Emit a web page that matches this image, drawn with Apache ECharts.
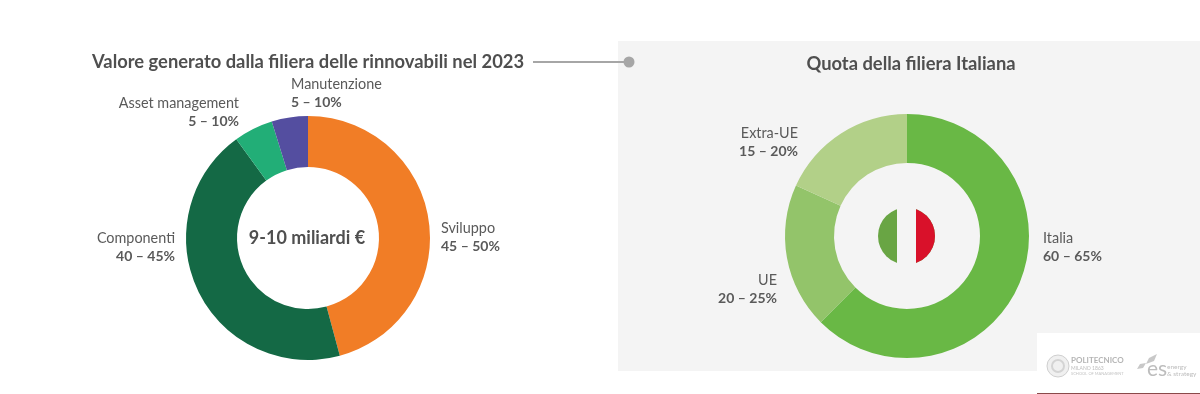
<!DOCTYPE html>
<html>
<head>
<meta charset="utf-8">
<style>
  html, body { margin: 0; padding: 0; background: #fff; }
  #chart { width: 1200px; height: 394px; }
</style>
<script src="https://cdn.jsdelivr.net/npm/echarts@6/dist/echarts.min.js"></script>
</head>
<body>
<div id="chart"></div>
<script>
const valueNames = ['Sviluppo', 'Componenti', 'Asset management', 'Manutenzione'];
const valueShares = [45.8, 44.2, 5.2, 4.8];
const valueRanges = ['45 – 50%', '40 – 45%', '5 – 10%', '5 – 10%'];
const valueColors = ['#f17d26', '#146945', '#22ae77', '#544ea0'];

const shareNames = ['Italia', 'UE', 'Extra-UE'];
const shareShares = [62.5, 19.3, 18.2];
const shareRanges = ['60 – 65%', '20 – 25%', '15 – 20%'];
const shareColors = ['#69b845', '#93c46a', '#b2d088'];

const leftTitle = 'Valore generato dalla filiera delle rinnovabili nel 2023';
const rightTitle = 'Quota della filiera Italiana';
const centerText = '9-10 miliardi €';

const FONT = 'Lato, sans-serif';
const PANEL = '#f4f4f4';

// where each pie label sits: [x, y, align]
const valueLabelPos = [[441, 237, 'left'], [175, 247, 'right'], [239, 112, 'right'], [291, 93, 'left']];
const shareLabelPos = [[1043, 247, 'left'], [777, 289, 'right'], [798, 142, 'right']];

const toData = (names, values, ranges, colors) => names.map((name, i) => ({
  name,
  value: values[i],
  range: ranges[i],
  itemStyle: { color: colors[i] }
}));

const createPie = (center, radius, data, positions) => ({
  type: 'pie',
  center,
  radius,
  startAngle: 90,
  clockwise: true,
  animation: false,
  silent: true,
  data,
  labelLine: { show: false },
  label: {
    show: true,
    position: 'outside',
    formatter: p => `{n|${p.name}}\n{r|${p.data.range}}`,
    rich: {
      n: { fontFamily: FONT, fontSize: 14.4, color: '#5a5a5a', lineHeight: 18 },
      r: { fontFamily: FONT, fontSize: 14, fontWeight: 'bold', color: '#5a5a5a', lineHeight: 18 }
    }
  },
  labelLayout: p => {
    const pos = positions[p.dataIndex];
    return { x: pos[0], y: pos[1], align: pos[2], verticalAlign: 'middle', hideOverlap: false };
  }
});

const chart = echarts.init(document.getElementById('chart'), null, { renderer: 'canvas' });

chart.setOption({
  backgroundColor: '#fff',
  graphic: [
    { type: 'rect', z: -1, shape: { x: 618, y: 41, width: 582, height: 330 }, style: { fill: PANEL } },
    { type: 'text', x: 92, y: 62, style: { text: leftTitle, fontFamily: FONT, fontSize: 18.35, fontWeight: 'bold', fill: '#4f4f4f', verticalAlign: 'middle' } },
    { type: 'text', x: 911, y: 64, style: { text: rightTitle, fontFamily: FONT, fontSize: 18.35, fontWeight: 'bold', fill: '#4f4f4f', align: 'center', verticalAlign: 'middle' } },
    { type: 'line', shape: { x1: 533, y1: 62, x2: 629, y2: 62 }, style: { stroke: '#a6a6a6', lineWidth: 2 } },
    { type: 'circle', shape: { cx: 629, cy: 62, r: 5.5 }, style: { fill: '#a6a6a6' } },
    { type: 'text', x: 307, y: 238, style: { text: centerText, fontFamily: FONT, fontSize: 18, fontWeight: 'bold', fill: '#4f4f4f', align: 'center', verticalAlign: 'middle' } },

    // flag: green disc, red right half, then a panel coloured band over the middle
    { type: 'circle', z: 5, shape: { cx: 906.5, cy: 236, r: 28.5 }, style: { fill: '#69a544' } },
    { type: 'sector', z: 6, shape: { cx: 906.5, cy: 236, r: 28.5, r0: 0, startAngle: -Math.PI / 2, endAngle: Math.PI / 2 }, style: { fill: '#d9112a' } },
    { type: 'rect', z: 7, shape: { x: 897, y: 206, width: 19, height: 60 }, style: { fill: PANEL } },

    // logo box, bottom right
    { type: 'rect', z: 8, shape: { x: 1037, y: 333, width: 163, height: 61 }, style: { fill: '#fff' } },
    { type: 'line', z: 9, shape: { x1: 1037, y1: 393.5, x2: 1200, y2: 393.5 }, style: { stroke: '#8a4a4a', lineWidth: 1 } },
    { type: 'circle', z: 9, shape: { cx: 1058, cy: 366, r: 11 }, style: { fill: '#f0f0f0', stroke: '#cfcfcf', lineWidth: 1 } },
    { type: 'circle', z: 9, shape: { cx: 1058, cy: 366, r: 6 }, style: { fill: 'none', stroke: '#d4d4d4', lineWidth: 2 } },
    { type: 'text', z: 9, x: 1071, y: 360, style: { text: 'POLITECNICO', fontFamily: FONT, fontSize: 8, fontWeight: 'bold', fill: '#b5b5b5', verticalAlign: 'middle' } },
    { type: 'text', z: 9, x: 1071, y: 368, style: { text: 'MILANO 1863', fontFamily: FONT, fontSize: 5, fill: '#bdbdbd', verticalAlign: 'middle' } },
    { type: 'text', z: 9, x: 1071, y: 374, style: { text: 'SCHOOL OF MANAGEMENT', fontFamily: FONT, fontSize: 4, fill: '#c4c4c4', verticalAlign: 'middle' } },
    { type: 'text', z: 9, x: 1147, y: 369, style: { text: 'es', fontFamily: FONT, fontSize: 21, fill: '#bdbdbd', verticalAlign: 'middle' } },
    { type: 'text', z: 9, x: 1167, y: 367, style: { text: 'energy', fontFamily: FONT, fontSize: 6.5, fill: '#bdbdbd', verticalAlign: 'middle' } },
    { type: 'text', z: 9, x: 1167, y: 374, style: { text: '& strategy', fontFamily: FONT, fontSize: 6.5, fill: '#bdbdbd', verticalAlign: 'middle' } },
    { type: 'polygon', z: 9, shape: { points: [[1146, 364], [1149, 358], [1157, 354], [1154, 361]] }, style: { fill: '#c8c8c8' } },
    { type: 'polygon', z: 9, shape: { points: [[1137, 369], [1140, 364], [1146, 363], [1143, 368]] }, style: { fill: '#c8c8c8' } }
  ],
  series: [
    createPie([308, 238], [71, 122], toData(valueNames, valueShares, valueRanges, valueColors), valueLabelPos),
    createPie([907, 236], [73, 122], toData(shareNames, shareShares, shareRanges, shareColors), shareLabelPos)
  ]
});
</script>
</body>
</html>
